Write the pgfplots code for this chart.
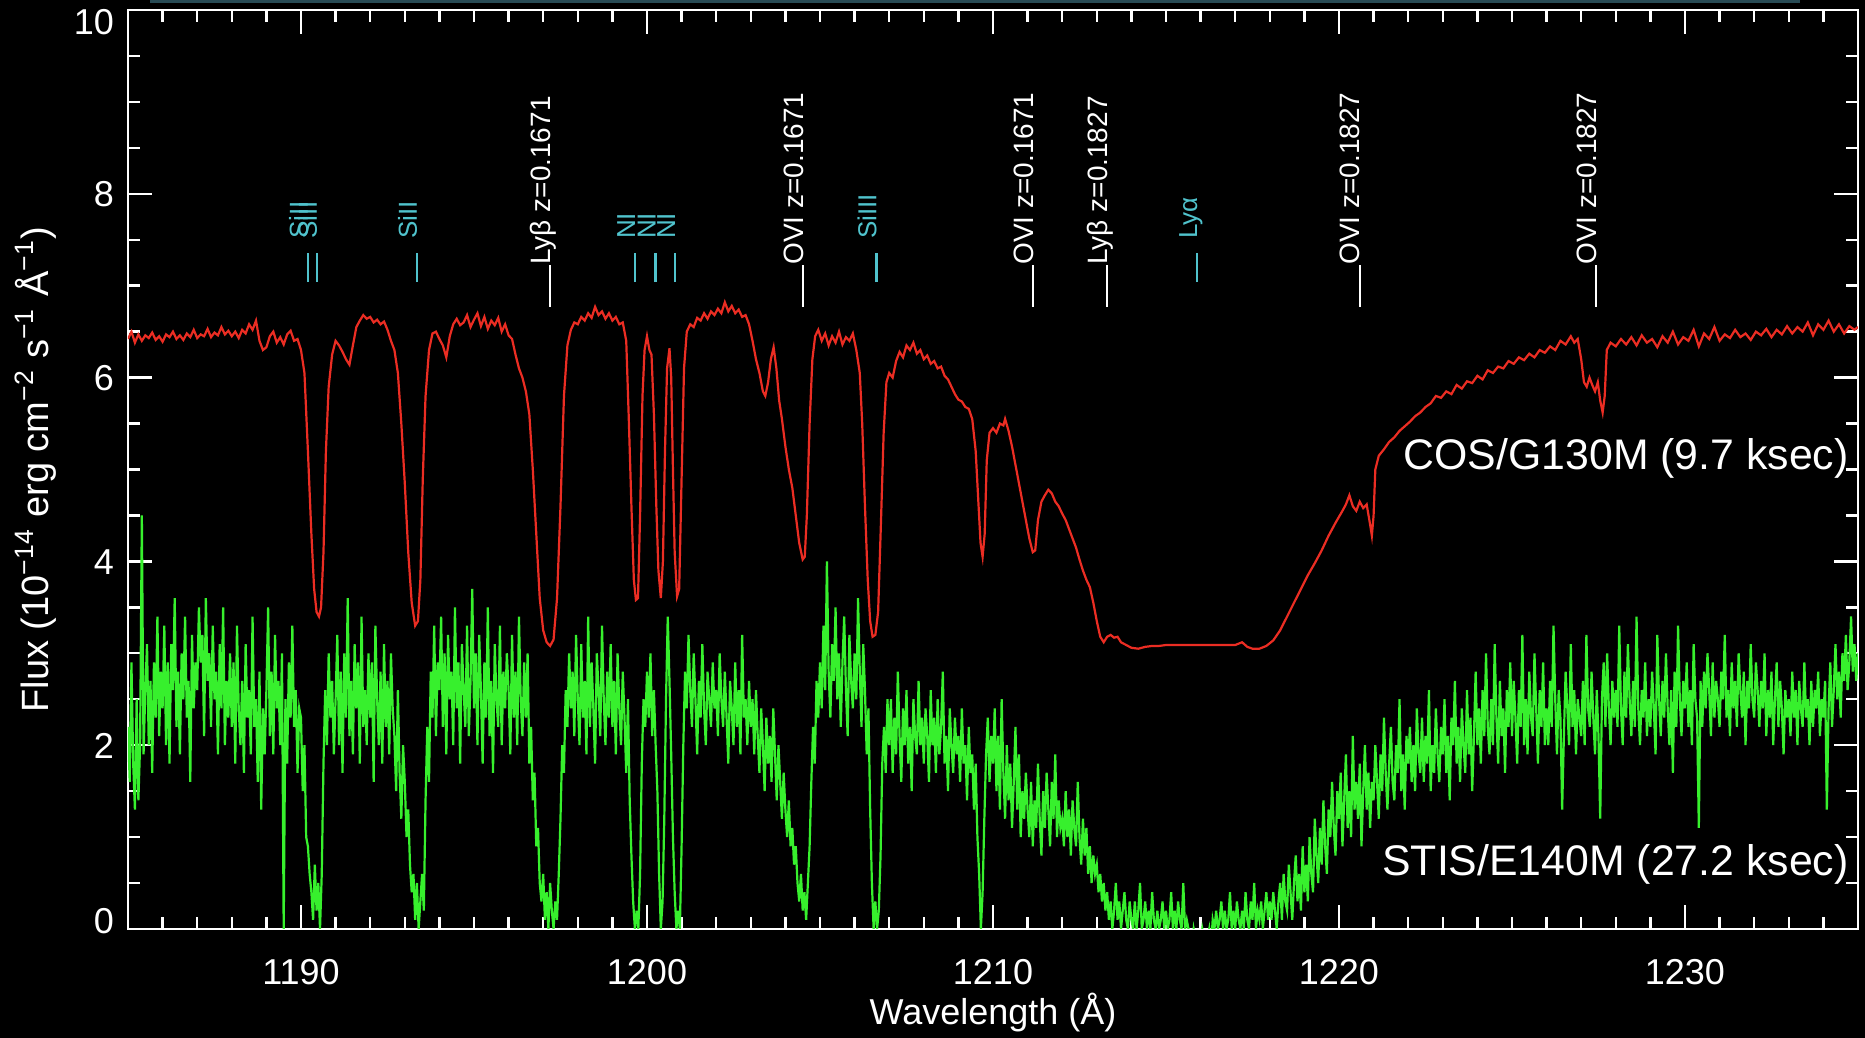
\documentclass[border=0pt]{standalone}
\usepackage{pgfplots}
\pgfplotsset{compat=1.18}
\usepackage{fontspec}
\setmainfont{Liberation Sans}
\definecolor{specred}{RGB}{235,45,35}
\definecolor{specgreen}{RGB}{55,240,45}
\definecolor{linecyan}{RGB}{80,195,205}
\definecolor{stripteal}{RGB}{40,75,85}
\tikzset{
  wlbl/.style={rotate=90, anchor=base west, inner sep=0pt, text=white, font=\fontsize{7}{8}\selectfont},
  clbl/.style={rotate=90, anchor=base west, inner sep=0pt, text=linecyan, font=\fontsize{6.5}{7}\selectfont},
  wtick/.style={white, line width=0.5pt},
  ctick/.style={linecyan, line width=0.6pt},
}
\begin{document}
\begin{tikzpicture}
\fill[black] (-32pt,-27.25pt) rectangle (434.25pt,232.25pt);
\begin{axis}[
  at={(0,0)}, anchor=south west,
  scale only axis, width=432.5pt, height=229.75pt,
  xmin=1185, xmax=1235, ymin=0, ymax=10,
  axis line style={white, line width=0.6pt},
  every tick/.style={white, line width=0.6pt},
  major tick length=6pt, minor tick length=3pt,
  tick align=inside,
  xtick={1190,1200,1210,1220,1230},
  minor xtick={1185,1186,...,1235},
  ytick={0,2,4,6,8,10},
  yticklabels={\raisebox{2.2pt}[6.5pt][0pt]{0},\raisebox{0pt}[6.5pt][0pt]{2},\raisebox{0pt}[6.5pt][0pt]{4},\raisebox{0pt}[6.5pt][0pt]{6},\raisebox{0pt}[6.5pt][0pt]{8},\raisebox{-2.8pt}[6.5pt][0pt]{10}},
  minor ytick={0,0.5,...,10},
  /pgf/number format/assume math mode=true,
  /pgf/number format/1000 sep={},
  tick label style={text=white, font=\fontsize{9}{10}\selectfont},
  xticklabel style={yshift=-4pt},
  xlabel={Wavelength (Å)},
  every axis x label/.style={at={(axis description cs:0.5,-0.0914)}, anchor=center, text=white, font=\fontsize{9}{10}\selectfont},
  ylabel={Flux (10\textsuperscript{−14} erg cm\textsuperscript{−2} s\textsuperscript{−1} Å\textsuperscript{−1})},
  every axis y label/.style={at={(axis description cs:-0.0532,0.5)}, rotate=90, anchor=center, text=white, font=\fontsize{9.5}{11}\selectfont},
]
% STIS/E140M (green), uniform grid 1185.00 ... 1235.00 step 0.05
\addplot[specgreen, line width=0.55pt, sharp plot, mark=none] table[row sep=\\, header=false, x expr={1185+0.05*\coordindex}, y index=0] {
2.2\\1.6\\2.9\\1.8\\1.3\\2.5\\1.4\\2.0\\4.5\\1.9\\2.6\\3.1\\2.0\\2.7\\1.7\\2.9\\2.3\\3.4\\2.1\\2.8\\
2.4\\3.3\\2.0\\2.9\\1.8\\3.1\\2.6\\3.6\\2.2\\2.8\\1.9\\3.0\\2.5\\3.4\\2.3\\2.7\\1.6\\3.2\\2.4\\2.9\\
2.6\\3.5\\2.9\\3.2\\2.1\\3.6\\2.7\\3.0\\2.2\\3.3\\2.5\\2.8\\1.9\\3.1\\2.4\\3.5\\2.0\\2.7\\2.3\\3.0\\
2.2\\2.9\\1.8\\3.3\\2.4\\2.0\\2.7\\1.7\\3.1\\2.3\\2.6\\1.9\\3.4\\2.2\\2.5\\1.6\\2.8\\1.3\\2.4\\1.9\\
2.6\\3.5\\2.1\\2.8\\1.9\\3.2\\2.4\\2.7\\2.0\\3.0\\0.0\\2.5\\1.8\\2.9\\2.3\\3.3\\2.2\\2.6\\1.7\\2.4\\
2.3\\1.5\\2.0\\1.0\\0.9\\0.6\\0.4\\0.1\\0.7\\0.2\\0.5\\0.0\\0.6\\1.8\\2.6\\2.0\\3.0\\2.3\\2.7\\1.9\\
2.5\\3.2\\2.0\\2.8\\1.7\\3.0\\2.3\\3.6\\2.1\\2.7\\1.9\\3.1\\2.4\\2.9\\1.8\\3.4\\2.2\\2.6\\2.0\\3.0\\
2.3\\2.9\\1.6\\3.3\\2.5\\2.0\\2.8\\1.8\\3.1\\2.2\\2.7\\1.9\\3.0\\2.4\\2.1\\1.5\\2.6\\1.7\\1.2\\2.0\\
1.6\\1.0\\1.3\\0.7\\0.4\\0.6\\0.1\\0.5\\0.0\\0.3\\0.6\\0.2\\1.4\\2.2\\1.6\\2.8\\2.3\\3.3\\2.1\\2.9\\
2.6\\3.4\\2.2\\3.0\\1.9\\3.2\\2.5\\2.8\\2.0\\3.5\\2.4\\2.9\\1.8\\3.1\\2.6\\2.2\\3.3\\2.1\\2.7\\3.7\\
2.4\\3.0\\2.0\\3.2\\2.6\\1.8\\2.9\\2.3\\3.5\\2.1\\2.7\\1.7\\3.1\\2.5\\2.2\\3.3\\2.0\\2.8\\2.4\\3.0\\
2.6\\1.9\\3.2\\2.3\\2.8\\2.0\\3.4\\2.5\\2.1\\2.9\\2.3\\3.0\\1.8\\2.2\\1.4\\1.7\\0.9\\1.1\\0.5\\0.3\\
0.6\\0.1\\0.4\\0.0\\0.5\\0.2\\0.0\\0.3\\0.1\\0.6\\1.2\\2.0\\1.7\\2.6\\2.2\\3.0\\2.4\\2.8\\2.1\\3.2\\
2.5\\2.0\\3.1\\2.3\\2.7\\1.9\\3.4\\2.2\\2.9\\2.4\\1.8\\3.0\\2.6\\2.1\\3.3\\2.5\\2.0\\2.8\\2.3\\3.1\\
2.2\\2.7\\1.9\\3.0\\2.4\\2.0\\2.8\\2.3\\1.7\\2.5\\1.4\\0.8\\0.3\\0.0\\0.2\\0.0\\0.6\\1.8\\2.5\\2.2\\
2.8\\2.3\\3.0\\2.1\\2.6\\2.0\\1.5\\0.6\\0.0\\0.3\\1.2\\2.5\\3.4\\2.7\\1.9\\1.0\\0.4\\0.0\\0.2\\0.0\\
0.9\\2.0\\2.8\\2.4\\3.2\\2.6\\2.2\\3.0\\2.5\\1.9\\2.7\\2.3\\3.1\\2.4\\2.0\\2.8\\2.5\\2.2\\2.9\\2.4\\
2.6\\2.1\\3.0\\2.5\\2.2\\2.8\\2.3\\1.8\\2.7\\2.4\\2.0\\2.9\\2.2\\2.6\\1.9\\3.2\\2.3\\2.5\\2.0\\2.7\\
2.2\\2.5\\1.9\\2.6\\2.1\\1.7\\2.4\\2.0\\1.5\\2.3\\1.8\\2.1\\1.6\\2.4\\1.9\\1.4\\2.0\\1.6\\1.2\\1.7\\
1.3\\1.0\\1.4\\0.9\\1.1\\0.7\\0.9\\0.5\\0.3\\0.6\\0.2\\0.4\\0.1\\0.5\\0.9\\1.6\\2.2\\1.8\\2.7\\2.3\\
2.9\\2.4\\3.3\\2.6\\4.0\\2.8\\2.3\\3.1\\2.7\\3.5\\2.5\\3.0\\2.2\\2.9\\3.4\\2.6\\2.1\\3.2\\2.7\\2.4\\
3.0\\2.5\\3.6\\2.8\\2.2\\3.1\\2.6\\1.9\\2.4\\1.3\\0.5\\0.0\\0.3\\0.0\\0.2\\0.8\\1.8\\2.2\\1.7\\2.5\\
2.0\\2.5\\1.7\\2.3\\1.9\\2.8\\2.1\\1.6\\2.4\\2.0\\2.6\\1.8\\2.2\\1.5\\2.5\\2.1\\1.9\\2.7\\2.0\\2.3\\
1.8\\2.4\\2.1\\1.6\\2.6\\2.0\\2.3\\1.7\\2.5\\1.9\\2.2\\2.8\\1.8\\2.1\\1.5\\2.4\\2.0\\1.7\\2.3\\1.9\\
2.1\\1.6\\2.4\\1.8\\2.0\\1.4\\2.2\\1.7\\1.9\\1.3\\1.8\\1.0\\0.6\\0.0\\0.4\\1.2\\1.9\\2.3\\1.6\\2.1\\
1.8\\2.4\\1.5\\2.1\\1.3\\2.5\\1.7\\1.2\\2.0\\1.4\\1.8\\1.1\\1.6\\2.2\\1.3\\1.9\\1.0\\1.5\\1.2\\1.7\\
1.3\\1.0\\1.6\\0.9\\1.4\\1.1\\1.8\\1.2\\0.8\\1.5\\1.1\\1.7\\1.3\\0.9\\1.6\\1.2\\1.9\\1.0\\1.4\\1.1\\
1.2\\0.9\\1.5\\1.0\\1.3\\0.8\\1.4\\1.1\\0.9\\1.6\\1.0\\0.7\\1.2\\0.8\\1.1\\0.6\\0.9\\0.5\\0.8\\0.6\\
0.7\\0.4\\0.6\\0.3\\0.5\\0.2\\0.4\\0.1\\0.3\\0.0\\0.2\\0.5\\0.1\\0.3\\0.0\\0.2\\0.4\\0.1\\0.0\\0.3\\
0.1\\0.0\\0.3\\0.0\\0.2\\0.5\\0.0\\0.1\\0.3\\0.0\\0.2\\0.0\\0.4\\0.1\\0.0\\0.2\\0.0\\0.1\\0.3\\0.0\\
0.2\\0.0\\0.1\\0.4\\0.0\\0.2\\0.0\\0.3\\0.1\\0.0\\0.5\\0.0\\0.1\\0.0\\-0.1\\-0.2\\0.0\\-0.1\\-0.3\\-0.1\\
-0.2\\0.0\\-0.1\\-0.3\\-0.1\\0.0\\-0.2\\0.1\\0.0\\0.2\\0.0\\0.1\\0.3\\0.0\\0.2\\0.0\\0.1\\0.4\\0.0\\0.2\\
0.0\\0.3\\0.1\\0.0\\0.2\\0.0\\0.4\\0.1\\0.0\\0.3\\0.1\\0.5\\0.0\\0.2\\0.1\\0.3\\0.0\\0.2\\0.4\\0.1\\
0.3\\0.1\\0.4\\0.2\\0.0\\0.3\\0.5\\0.1\\0.6\\0.3\\0.2\\0.7\\0.4\\0.1\\0.5\\0.8\\0.3\\0.6\\0.2\\0.9\\
0.4\\0.7\\0.3\\1.0\\0.6\\0.4\\1.2\\0.8\\0.5\\1.1\\0.7\\1.4\\0.9\\0.6\\1.3\\1.0\\1.6\\1.1\\0.8\\1.5\\
1.2\\1.7\\0.9\\1.4\\1.9\\1.1\\1.5\\1.0\\2.1\\1.3\\1.6\\1.2\\1.8\\0.9\\1.5\\2.0\\1.3\\1.7\\1.1\\1.6\\
1.4\\2.0\\1.6\\1.2\\1.9\\1.5\\2.3\\1.7\\1.3\\1.8\\2.2\\1.6\\1.4\\2.0\\1.7\\2.5\\1.5\\1.9\\1.3\\2.1\\
1.8\\2.2\\1.6\\2.0\\1.5\\2.4\\1.9\\1.7\\2.3\\1.6\\2.1\\1.8\\2.6\\1.5\\2.0\\1.7\\2.4\\1.9\\1.6\\2.2\\
1.9\\2.5\\1.7\\2.1\\1.4\\2.3\\2.0\\2.7\\1.8\\2.2\\1.6\\2.4\\2.0\\1.7\\2.6\\1.9\\2.3\\1.5\\2.1\\2.8\\
2.0\\2.4\\1.8\\2.6\\2.1\\3.0\\2.2\\1.9\\2.5\\2.0\\3.1\\2.3\\1.8\\2.7\\2.1\\2.4\\1.7\\2.6\\2.2\\2.9\\
2.1\\2.7\\2.3\\1.8\\2.6\\2.2\\3.2\\2.0\\2.5\\1.9\\2.8\\2.3\\2.1\\3.0\\2.4\\1.8\\2.6\\2.2\\2.9\\2.0\\
2.4\\2.0\\2.7\\2.2\\3.3\\2.5\\1.9\\2.6\\2.3\\1.3\\2.1\\2.8\\2.4\\2.0\\3.1\\2.2\\2.6\\1.9\\2.5\\2.3\\
2.1\\2.7\\2.0\\3.2\\2.4\\2.2\\2.8\\2.3\\1.9\\2.6\\2.1\\1.2\\2.5\\2.9\\2.2\\3.0\\2.4\\2.0\\2.7\\2.3\\
2.6\\2.2\\3.3\\2.4\\2.0\\2.8\\2.3\\3.1\\2.5\\2.1\\2.7\\2.2\\3.4\\2.4\\2.0\\2.6\\2.3\\2.9\\2.1\\2.5\\
2.2\\2.8\\2.4\\1.9\\3.2\\2.5\\2.1\\2.7\\2.3\\3.0\\2.4\\2.0\\2.6\\1.7\\2.8\\2.2\\3.3\\2.5\\2.1\\2.7\\
2.4\\2.9\\2.2\\2.6\\2.0\\3.1\\2.5\\2.3\\1.1\\2.7\\2.2\\2.8\\2.4\\3.0\\2.6\\2.1\\2.9\\2.3\\2.7\\2.5\\
2.2\\2.8\\2.5\\3.2\\2.3\\2.6\\2.1\\2.9\\2.4\\2.7\\2.2\\3.0\\2.6\\2.3\\2.8\\2.0\\2.7\\2.4\\3.1\\2.5\\
2.3\\2.9\\2.6\\2.2\\2.7\\2.4\\3.0\\2.1\\2.6\\2.3\\2.8\\2.0\\2.5\\2.9\\2.2\\2.7\\2.4\\1.9\\2.6\\2.3\\
2.5\\2.1\\2.8\\2.3\\2.6\\2.0\\2.7\\2.4\\2.2\\2.9\\2.3\\2.5\\2.0\\2.7\\2.2\\2.6\\2.4\\2.8\\2.1\\2.5\\
2.3\\2.7\\1.3\\2.4\\2.9\\2.2\\2.6\\3.1\\2.5\\2.8\\2.3\\3.0\\2.7\\3.2\\2.6\\2.9\\3.4\\2.8\\3.1\\2.7\\
3.0\\
};
% COS/G130M (red)
\addplot[specred, line width=0.55pt, sharp plot, mark=none] coordinates {
(1185.0,6.42)(1185.1,6.50)(1185.2,6.38)(1185.3,6.47)(1185.4,6.40)(1185.5,6.46)(1185.6,6.43)(1185.7,6.49)(1185.8,6.41)(1185.9,6.45)
(1186.0,6.39)(1186.1,6.47)(1186.2,6.44)(1186.3,6.50)(1186.4,6.42)(1186.5,6.46)(1186.6,6.41)(1186.7,6.48)(1186.8,6.44)(1186.9,6.52)
(1187.0,6.43)(1187.1,6.47)(1187.2,6.45)(1187.3,6.53)(1187.4,6.44)(1187.5,6.49)(1187.6,6.46)(1187.7,6.55)(1187.8,6.47)(1187.9,6.51)
(1188.0,6.45)(1188.1,6.50)(1188.2,6.43)(1188.3,6.52)(1188.4,6.48)(1188.5,6.58)(1188.6,6.52)(1188.7,6.62)(1188.8,6.40)(1188.9,6.30)
(1189.0,6.33)(1189.1,6.45)(1189.2,6.50)(1189.3,6.38)(1189.4,6.44)(1189.5,6.36)(1189.6,6.47)(1189.7,6.51)(1189.8,6.40)(1189.9,6.42)
(1190.0,6.30)(1190.1,6.05)(1190.2,5.2)(1190.3,4.3)(1190.38,3.7)(1190.45,3.45)(1190.52,3.4)(1190.58,3.5)(1190.65,4.1)(1190.72,5.2)
(1190.8,5.9)(1190.9,6.25)(1191.0,6.40)(1191.1,6.35)(1191.2,6.28)(1191.3,6.20)(1191.4,6.14)(1191.5,6.35)(1191.6,6.55)(1191.7,6.62)
(1191.8,6.68)(1191.9,6.64)(1192.0,6.66)(1192.1,6.60)(1192.2,6.63)(1192.3,6.58)(1192.4,6.61)(1192.5,6.52)(1192.6,6.40)(1192.7,6.30)
(1192.8,6.05)(1192.9,5.5)(1193.0,4.85)(1193.1,4.1)(1193.2,3.55)(1193.3,3.3)(1193.38,3.35)(1193.45,3.8)(1193.52,4.9)(1193.6,5.8)
(1193.7,6.3)(1193.8,6.48)(1193.9,6.50)(1194.0,6.42)(1194.1,6.35)(1194.2,6.22)(1194.3,6.45)(1194.4,6.58)(1194.5,6.64)(1194.6,6.57)
(1194.7,6.60)(1194.8,6.68)(1194.9,6.55)(1195.0,6.63)(1195.1,6.70)(1195.2,6.56)(1195.3,6.66)(1195.4,6.53)(1195.5,6.62)(1195.6,6.57)
(1195.7,6.65)(1195.8,6.50)(1195.9,6.58)(1196.0,6.46)(1196.1,6.42)(1196.2,6.25)(1196.3,6.10)(1196.4,6.00)(1196.5,5.85)(1196.6,5.6)
(1196.7,5.0)(1196.8,4.3)(1196.9,3.6)(1197.0,3.25)(1197.1,3.12)(1197.2,3.08)(1197.3,3.15)(1197.4,3.6)(1197.5,4.6)(1197.6,5.8)
(1197.7,6.35)(1197.8,6.52)(1197.9,6.60)(1198.0,6.58)(1198.1,6.66)(1198.2,6.62)(1198.3,6.70)(1198.4,6.65)(1198.5,6.77)(1198.6,6.68)
(1198.7,6.72)(1198.8,6.64)(1198.9,6.70)(1199.0,6.62)(1199.1,6.66)(1199.2,6.58)(1199.3,6.60)(1199.4,6.40)(1199.47,5.6)(1199.55,4.6)
(1199.62,3.8)(1199.68,3.58)(1199.74,3.6)(1199.8,4.5)(1199.87,5.8)(1199.93,6.3)(1200.0,6.45)(1200.07,6.30)(1200.13,6.25)(1200.2,5.6)
(1200.27,4.6)(1200.33,3.9)(1200.4,3.6)(1200.46,4.0)(1200.52,5.2)(1200.58,6.1)(1200.65,6.32)(1200.7,6.0)(1200.75,5.0)(1200.8,4.1)
(1200.87,3.62)(1200.93,3.7)(1201.0,4.9)(1201.07,6.1)(1201.15,6.5)(1201.25,6.58)(1201.35,6.55)(1201.45,6.65)(1201.55,6.62)(1201.65,6.70)
(1201.75,6.64)(1201.85,6.72)(1201.95,6.68)(1202.05,6.75)(1202.15,6.70)(1202.25,6.82)(1202.35,6.72)(1202.45,6.78)(1202.55,6.70)(1202.65,6.74)
(1202.75,6.66)(1202.85,6.68)(1202.95,6.58)(1203.05,6.40)(1203.15,6.20)(1203.25,6.05)(1203.35,5.85)(1203.42,5.80)(1203.5,5.95)(1203.58,6.20)
(1203.66,6.33)(1203.74,6.10)(1203.82,5.75)(1203.9,5.55)(1204.0,5.25)(1204.1,5.00)(1204.2,4.80)(1204.3,4.50)(1204.4,4.20)(1204.5,4.02)
(1204.56,4.05)(1204.62,4.5)(1204.7,5.5)(1204.78,6.2)(1204.86,6.45)(1204.95,6.52)(1205.05,6.40)(1205.15,6.48)(1205.25,6.35)(1205.35,6.45)
(1205.45,6.38)(1205.55,6.50)(1205.65,6.36)(1205.75,6.44)(1205.85,6.40)(1205.95,6.48)(1206.05,6.30)(1206.15,6.05)(1206.22,5.5)(1206.3,4.6)
(1206.38,3.8)(1206.45,3.35)(1206.52,3.18)(1206.6,3.2)(1206.68,3.45)(1206.76,4.4)(1206.84,5.4)(1206.92,5.95)(1207.0,6.05)(1207.1,6.0)
(1207.2,6.18)(1207.3,6.28)(1207.4,6.22)(1207.5,6.35)(1207.6,6.30)(1207.7,6.38)(1207.8,6.26)(1207.9,6.30)(1208.0,6.20)(1208.1,6.24)
(1208.2,6.15)(1208.3,6.18)(1208.4,6.10)(1208.5,6.12)(1208.6,6.02)(1208.7,5.98)(1208.8,5.90)(1208.9,5.82)(1209.0,5.76)(1209.1,5.74)
(1209.2,5.68)(1209.3,5.66)(1209.4,5.55)(1209.5,5.2)(1209.57,4.7)(1209.64,4.2)(1209.7,4.05)(1209.76,4.3)(1209.82,5.1)(1209.9,5.4)
(1210.0,5.45)(1210.1,5.40)(1210.2,5.50)(1210.3,5.48)(1210.35,5.55)(1210.45,5.42)(1210.55,5.25)(1210.65,5.05)(1210.75,4.85)(1210.85,4.65)
(1210.95,4.45)(1211.05,4.25)(1211.15,4.10)(1211.22,4.12)(1211.3,4.45)(1211.4,4.65)(1211.5,4.72)(1211.6,4.78)(1211.7,4.74)(1211.8,4.65)
(1211.9,4.60)(1212.0,4.52)(1212.1,4.45)(1212.2,4.35)(1212.3,4.25)(1212.4,4.15)(1212.5,4.02)(1212.6,3.90)(1212.7,3.80)(1212.8,3.72)
(1212.9,3.55)(1213.0,3.35)(1213.1,3.18)(1213.2,3.12)(1213.3,3.18)(1213.4,3.20)(1213.5,3.17)(1213.6,3.18)(1213.7,3.12)(1213.8,3.10)
(1213.9,3.08)(1214.0,3.06)(1214.2,3.05)(1214.4,3.07)(1214.6,3.08)(1214.8,3.08)(1215.0,3.09)(1215.5,3.09)(1216.0,3.09)(1216.5,3.09)
(1217.0,3.09)(1217.2,3.12)(1217.35,3.07)(1217.5,3.05)(1217.7,3.05)(1217.9,3.08)(1218.1,3.14)(1218.3,3.25)(1218.5,3.40)(1218.7,3.55)
(1218.9,3.70)(1219.1,3.85)(1219.3,3.98)(1219.5,4.12)(1219.7,4.28)(1219.9,4.42)(1220.1,4.55)(1220.2,4.62)(1220.3,4.72)(1220.4,4.60)
(1220.5,4.55)(1220.6,4.65)(1220.7,4.58)(1220.8,4.62)(1220.9,4.40)(1220.95,4.28)(1221.0,4.50)(1221.05,5.0)(1221.15,5.15)(1221.3,5.22)
(1221.45,5.30)(1221.6,5.35)(1221.75,5.42)(1221.9,5.47)(1222.05,5.52)(1222.2,5.58)(1222.35,5.62)(1222.5,5.68)(1222.65,5.72)(1222.8,5.80)
(1222.95,5.78)(1223.1,5.85)(1223.25,5.82)(1223.4,5.92)(1223.55,5.88)(1223.7,5.96)(1223.85,5.94)(1224.0,6.02)(1224.15,5.98)(1224.3,6.08)
(1224.45,6.05)(1224.6,6.12)(1224.75,6.10)(1224.9,6.18)(1225.05,6.15)(1225.2,6.22)(1225.35,6.19)(1225.5,6.26)(1225.65,6.22)(1225.8,6.30)
(1225.95,6.27)(1226.1,6.34)(1226.25,6.30)(1226.4,6.40)(1226.55,6.36)(1226.7,6.45)(1226.8,6.38)(1226.9,6.42)(1227.0,6.20)(1227.08,5.95)
(1227.16,5.90)(1227.24,6.00)(1227.32,5.92)(1227.4,5.85)(1227.48,5.95)(1227.55,5.75)(1227.62,5.62)(1227.68,5.80)(1227.74,6.30)(1227.85,6.38)
(1228.0,6.34)(1228.15,6.42)(1228.3,6.36)(1228.45,6.44)(1228.6,6.35)(1228.75,6.46)(1228.9,6.38)(1229.05,6.42)(1229.2,6.33)(1229.35,6.45)
(1229.5,6.38)(1229.65,6.50)(1229.8,6.36)(1229.95,6.44)(1230.1,6.40)(1230.25,6.52)(1230.4,6.34)(1230.55,6.48)(1230.7,6.42)(1230.85,6.55)
(1231.0,6.40)(1231.15,6.47)(1231.3,6.43)(1231.45,6.52)(1231.6,6.44)(1231.75,6.48)(1231.9,6.41)(1232.05,6.50)(1232.2,6.46)(1232.35,6.53)
(1232.5,6.44)(1232.65,6.52)(1232.8,6.47)(1232.95,6.56)(1233.1,6.48)(1233.25,6.55)(1233.4,6.50)(1233.55,6.60)(1233.7,6.46)(1233.85,6.58)
(1234.0,6.52)(1234.15,6.62)(1234.3,6.50)(1234.45,6.58)(1234.6,6.48)(1234.75,6.56)(1234.9,6.52)(1235.0,6.55)
};
% instrument labels
\node[anchor=east, text=white, inner sep=0pt, font=\fontsize{10.7}{12}\selectfont] at (axis cs:1234.75,5.12) {COS/G130M (9.7 ksec)};
\node[anchor=east, text=white, inner sep=0pt, font=\fontsize{10.7}{12}\selectfont] at (axis cs:1234.75,0.70) {STIS/E140M (27.2 ksec)};
% white line identifications
\draw[wtick] (axis cs:1197.21,6.77) -- (axis cs:1197.21,7.22);
\node[wlbl] at (axis cs:1197.21,7.22) {Lyβ z=0.1671};
\draw[wtick] (axis cs:1204.52,6.77) -- (axis cs:1204.52,7.22);
\node[wlbl] at (axis cs:1204.52,7.22) {OVI z=0.1671};
\draw[wtick] (axis cs:1211.17,6.77) -- (axis cs:1211.17,7.22);
\node[wlbl] at (axis cs:1211.17,7.22) {OVI z=0.1671};
\draw[wtick] (axis cs:1213.30,6.77) -- (axis cs:1213.30,7.22);
\node[wlbl] at (axis cs:1213.30,7.22) {Lyβ z=0.1827};
\draw[wtick] (axis cs:1220.60,6.77) -- (axis cs:1220.60,7.22);
\node[wlbl] at (axis cs:1220.60,7.22) {OVI z=0.1827};
\draw[wtick] (axis cs:1227.44,6.77) -- (axis cs:1227.44,7.22);
\node[wlbl] at (axis cs:1227.44,7.22) {OVI z=0.1827};
% cyan line identifications
\draw[ctick] (axis cs:1190.20,7.04) -- (axis cs:1190.20,7.36);
\node[clbl] at (axis cs:1190.20,7.50) {SiII};
\draw[ctick] (axis cs:1190.46,7.04) -- (axis cs:1190.46,7.36);
\node[clbl] at (axis cs:1190.46,7.50) {SiII};
\draw[ctick] (axis cs:1193.35,7.04) -- (axis cs:1193.35,7.36);
\node[clbl] at (axis cs:1193.35,7.50) {SiII};
\draw[ctick] (axis cs:1199.66,7.04) -- (axis cs:1199.66,7.36);
\node[clbl] at (axis cs:1199.66,7.50) {NI};
\draw[ctick] (axis cs:1200.25,7.04) -- (axis cs:1200.25,7.36);
\node[clbl] at (axis cs:1200.25,7.50) {NI};
\draw[ctick] (axis cs:1200.81,7.04) -- (axis cs:1200.81,7.36);
\node[clbl] at (axis cs:1200.81,7.50) {NI};
\draw[ctick] (axis cs:1206.63,7.04) -- (axis cs:1206.63,7.36);
\node[clbl] at (axis cs:1206.63,7.50) {SiIII};
\draw[ctick] (axis cs:1215.90,7.04) -- (axis cs:1215.90,7.36);
\node[clbl] at (axis cs:1215.90,7.50) {Lyα};
\end{axis}
\fill[stripteal] (5.5pt,231.4pt) rectangle (418pt,232.25pt);
\pgfresetboundingbox
\path (-32pt,-27.25pt) rectangle (434.25pt,232.25pt);
\end{tikzpicture}
\end{document}
